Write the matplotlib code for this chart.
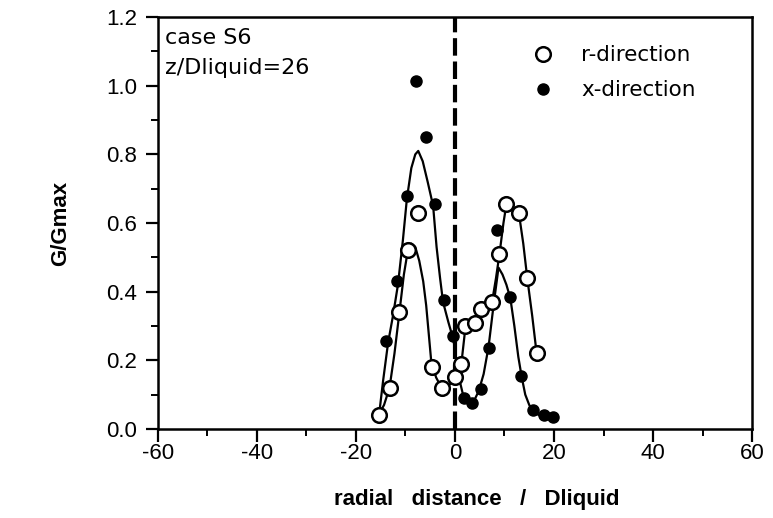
import matplotlib
matplotlib.use("Agg")
import matplotlib.pyplot as plt
from matplotlib.ticker import MultipleLocator, FormatStrFormatter

plt.rcParams['font.family'] = ['Liberation Sans', 'DejaVu Sans']
plt.rcParams['axes.unicode_minus'] = False

# measured points, r-direction (open circles)
r_x = [-15.4, -13.2, -11.2, -9.5, -7.4, -4.7, -2.6, 0.0, 1.3, 2.0, 4.1, 5.3, 7.5, 9.0, 10.4, 12.9, 14.6, 16.5]
r_y = [0.04, 0.12, 0.34, 0.52, 0.63, 0.18, 0.12, 0.15, 0.19, 0.30, 0.31, 0.35, 0.37, 0.51, 0.655, 0.63, 0.44, 0.22]

# measured points, x-direction (filled dots)
x_x = [-14.0, -11.7, -9.7, -7.8, -5.8, -4.0, -2.3, -0.3, 1.8, 3.5, 5.3, 6.8, 8.5, 11.2, 13.3, 15.7, 17.9, 19.9]
x_y = [0.255, 0.43, 0.68, 1.015, 0.85, 0.655, 0.375, 0.27, 0.09, 0.075, 0.115, 0.235, 0.58, 0.385, 0.155, 0.055, 0.04, 0.035]

# hand-drawn fit curves
rc_x = [-15.4, -14.3, -13.2, -12.2, -11.2, -10.3, -9.5, -8.8, -8.0, -7.2, -6.4, -5.8, -5.3, -4.8,
        -3.8, -2.7, -1.5, 0.0, 1.3, 2.0, 3.0, 4.1, 5.3, 6.5, 7.5, 8.3, 9.0, 9.8, 10.4, 11.6,
        12.9, 13.8, 14.6, 15.6, 16.5]
rc_y = [0.04, 0.07, 0.12, 0.22, 0.34, 0.45, 0.52, 0.54, 0.53, 0.49, 0.43, 0.36, 0.28, 0.20,
        0.15, 0.12, 0.12, 0.15, 0.19, 0.28, 0.30, 0.31, 0.34, 0.36, 0.37, 0.44, 0.51, 0.60, 0.655, 0.645,
        0.63, 0.54, 0.44, 0.33, 0.22]

xc_x = [-15.4, -14.5, -13.5, -12.5, -11.5, -10.5, -9.7, -8.8, -8.0, -7.4, -6.5, -5.5, -4.4, -3.7,
        -3.0, -2.4, -1.3, -0.3, 0.8, 1.8, 2.8, 3.8, 4.8, 5.8, 6.8, 7.8, 8.8, 9.6, 10.4, 11.2,
        12.0, 12.8, 13.5, 14.2, 15.0, 15.8, 17.0, 18.5, 20.0]
xc_y = [0.03, 0.14, 0.25, 0.33, 0.42, 0.55, 0.67, 0.76, 0.80, 0.81, 0.78, 0.72, 0.65, 0.53,
        0.44, 0.37, 0.31, 0.26, 0.15, 0.09, 0.07, 0.08, 0.11, 0.16, 0.24, 0.36, 0.47, 0.45, 0.42, 0.38,
        0.30, 0.21, 0.15, 0.10, 0.07, 0.05, 0.04, 0.035, 0.03]

fig = plt.figure(figsize=(7.73, 5.18), dpi=100)
ax = fig.add_axes([0.204, 0.172, 0.769, 0.795])

ax.axvline(0, color='black', lw=3, ls=(0, (4.2, 1.4)), zorder=1)

ax.plot(rc_x, rc_y, color='black', lw=1.6, zorder=2)
ax.plot(xc_x, xc_y, color='black', lw=1.6, zorder=2)

ax.plot(r_x, r_y, ls='none', marker='o', ms=10.5, mfc='white', mec='black', mew=1.8,
        zorder=3, label='r-direction')
ax.plot(x_x, x_y, ls='none', marker='o', ms=8, mfc='black', mec='black',
        zorder=4, label='x-direction')

ax.set_xlim(-60, 60)
ax.set_ylim(0, 1.2)
ax.xaxis.set_major_locator(MultipleLocator(20))
ax.xaxis.set_minor_locator(MultipleLocator(10))
ax.yaxis.set_major_locator(MultipleLocator(0.2))
ax.yaxis.set_minor_locator(MultipleLocator(0.1))
ax.yaxis.set_major_formatter(FormatStrFormatter('%.1f'))

ax.tick_params(which='major', direction='out', length=9, width=1.6, labelsize=16, pad=6)
ax.tick_params(axis='x', which='major', pad=1)
ax.tick_params(which='minor', direction='out', length=5, width=1.4)
for s in ax.spines.values():
    s.set_linewidth(1.8)

ax.text(0.013, 0.95, 'case S6', transform=ax.transAxes, fontsize=16, va='center', ha='left',
        family='DejaVu Sans')
ax.text(0.013, 0.876, 'z/Dliquid=26', transform=ax.transAxes, fontsize=16, va='center', ha='left',
        family='DejaVu Sans')

leg = ax.legend(loc='upper left', bbox_to_anchor=(0.626, 0.932), frameon=False,
                prop={'family': 'DejaVu Sans', 'size': 15.5},
                handletextpad=1.2, labelspacing=0.7, borderaxespad=0, borderpad=0,
                handlelength=1.2)

ax.set_ylabel('G/Gmax', fontsize=16, fontweight='bold')
ax.yaxis.set_label_coords(-0.145, 0.5)
ax.set_xlabel('radial   distance   /   Dliquid', fontsize=16, fontweight='bold')
ax.xaxis.set_label_coords(0.537, -0.147)

fig.savefig('out.png', dpi=100)
